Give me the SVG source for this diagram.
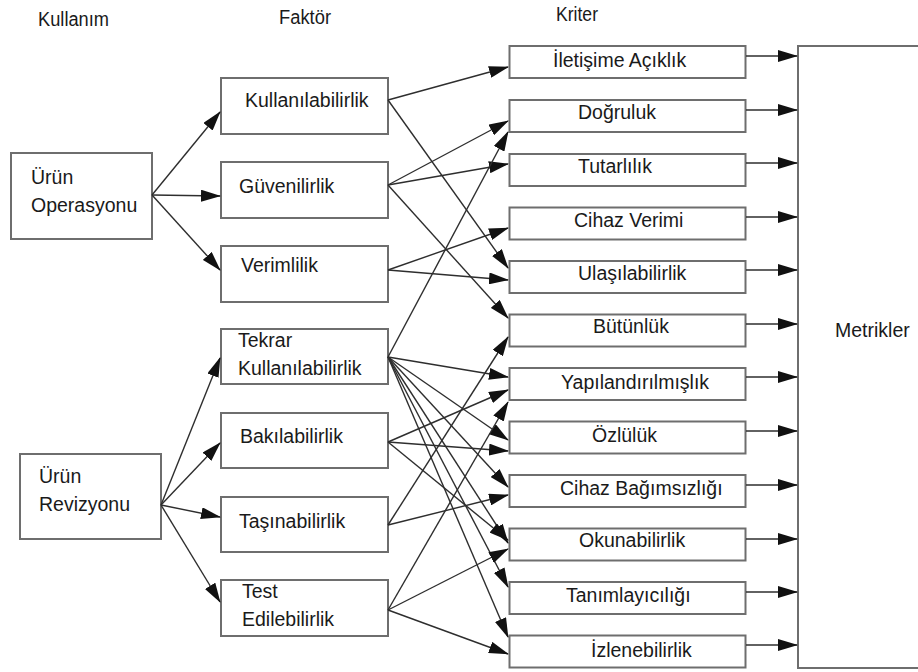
<svg xmlns="http://www.w3.org/2000/svg" width="918" height="672" viewBox="0 0 918 672">
  <style>
    .box { fill: #ffffff; stroke: #6e6e6e; stroke-width: 2; }
    .lbl { font-family: "Liberation Sans", Arial, sans-serif; font-size: 19.5px; fill: #1a1a1a; }
    .hdr { font-family: "Liberation Sans", Arial, sans-serif; font-size: 20px; fill: #1a1a1a; }
    .edge { stroke: #2e2e2e; stroke-width: 1.4; fill: none; marker-end: url(#arrow); }
  </style>
  <defs>
    <marker id="arrow" markerUnits="userSpaceOnUse" markerWidth="20" markerHeight="12" refX="19" refY="6" orient="auto">
      <path d="M0,0 L20,6 L0,12 Z" fill="#111111"/>
    </marker>
  </defs>
  <rect width="918" height="672" fill="#ffffff"/>

  <!-- column headings -->
  <g id="headings">
    <text class="hdr" x="38" y="26" textLength="71" lengthAdjust="spacingAndGlyphs">Kullanım</text>
    <text class="hdr" x="279" y="24" textLength="52" lengthAdjust="spacingAndGlyphs">Faktör</text>
    <text class="hdr" x="556" y="21" textLength="42" lengthAdjust="spacingAndGlyphs">Kriter</text>
  </g>

  <!-- usage nodes -->
  <g id="urun-operasyonu">
    <rect class="box" x="11" y="153" width="141" height="86"/>
    <text class="lbl" x="31" y="184">Ürün</text>
    <text class="lbl" x="31" y="212">Operasyonu</text>
  </g>
  <g id="urun-revizyonu">
    <rect class="box" x="20" y="454" width="141" height="85"/>
    <text class="lbl" x="39" y="483">Ürün</text>
    <text class="lbl" x="39" y="511">Revizyonu</text>
  </g>

  <!-- factor nodes -->
  <g id="f-kullanilabilirlik">
    <rect class="box" x="221" y="78" width="167" height="56"/>
    <text class="lbl" x="245" y="107">Kullanılabilirlik</text>
  </g>
  <g id="f-guvenilirlik">
    <rect class="box" x="221" y="162" width="167" height="56"/>
    <text class="lbl" x="239" y="193">Güvenilirlik</text>
  </g>
  <g id="f-verimlilik">
    <rect class="box" x="221" y="246" width="167" height="56"/>
    <text class="lbl" x="241" y="272">Verimlilik</text>
  </g>
  <g id="f-tekrar-kullanilabilirlik">
    <rect class="box" x="221" y="329" width="167" height="55"/>
    <text class="lbl" x="238" y="347">Tekrar</text>
    <text class="lbl" x="238" y="375">Kullanılabilirlik</text>
  </g>
  <g id="f-bakilabilirlik">
    <rect class="box" x="221" y="413" width="167" height="55"/>
    <text class="lbl" x="240" y="443">Bakılabilirlik</text>
  </g>
  <g id="f-tasinabilirlik">
    <rect class="box" x="221" y="497" width="167" height="55"/>
    <text class="lbl" x="239" y="528">Taşınabilirlik</text>
  </g>
  <g id="f-test-edilebilirlik">
    <rect class="box" x="221" y="580" width="167" height="56"/>
    <text class="lbl" x="242" y="598">Test</text>
    <text class="lbl" x="242" y="626">Edilebilirlik</text>
  </g>

  <!-- criteria nodes -->
  <g id="k-iletisime-aciklik">
    <rect class="box" x="509.5" y="46" width="236" height="32"/>
    <text class="lbl" x="553" y="67">İletişime Açıklık</text>
  </g>
  <g id="k-dogruluk">
    <rect class="box" x="509.5" y="100" width="236" height="32"/>
    <text class="lbl" x="578" y="119">Doğruluk</text>
  </g>
  <g id="k-tutarlilik">
    <rect class="box" x="509.5" y="154" width="236" height="32"/>
    <text class="lbl" x="578" y="173">Tutarlılık</text>
  </g>
  <g id="k-cihaz-verimi">
    <rect class="box" x="509.5" y="207.5" width="236" height="32"/>
    <text class="lbl" x="574" y="227">Cihaz Verimi</text>
  </g>
  <g id="k-ulasilabilirlik">
    <rect class="box" x="509.5" y="261" width="236" height="32"/>
    <text class="lbl" x="578" y="280">Ulaşılabilirlik</text>
  </g>
  <g id="k-butunluk">
    <rect class="box" x="509.5" y="314.5" width="236" height="32"/>
    <text class="lbl" x="593" y="333">Bütünlük</text>
  </g>
  <g id="k-yapilandirilmislik">
    <rect class="box" x="509.5" y="368" width="236" height="32"/>
    <text class="lbl" x="561" y="389">Yapılandırılmışlık</text>
  </g>
  <g id="k-ozluluk">
    <rect class="box" x="509.5" y="421.5" width="236" height="32"/>
    <text class="lbl" x="592" y="442">Özlülük</text>
  </g>
  <g id="k-cihaz-bagimsizligi">
    <rect class="box" x="509.5" y="475" width="236" height="32"/>
    <text class="lbl" x="560" y="495">Cihaz Bağımsızlığı</text>
  </g>
  <g id="k-okunabilirlik">
    <rect class="box" x="509.5" y="528.5" width="236" height="32"/>
    <text class="lbl" x="579" y="547">Okunabilirlik</text>
  </g>
  <g id="k-tanimlayiciligi">
    <rect class="box" x="509.5" y="582" width="236" height="32"/>
    <text class="lbl" x="566" y="602">Tanımlayıcılığı</text>
  </g>
  <g id="k-izlenebilirlik">
    <rect class="box" x="509.5" y="635.5" width="236" height="32"/>
    <text class="lbl" x="591" y="657">İzlenebilirlik</text>
  </g>

  <!-- metrics node, running past the right edge -->
  <g id="metrikler">
    <rect class="box" x="798" y="46" width="140" height="622"/>
    <text class="lbl" x="835" y="337">Metrikler</text>
  </g>

  <!-- connectors -->
  <g id="connectors">
    <!-- usage to factor -->
    <line class="edge" x1="152" y1="195" x2="220" y2="112"/>
    <line class="edge" x1="152" y1="195" x2="220" y2="196"/>
    <line class="edge" x1="152" y1="195" x2="220" y2="270"/>
    <line class="edge" x1="161" y1="505" x2="220" y2="358"/>
    <line class="edge" x1="161" y1="505" x2="220" y2="443"/>
    <line class="edge" x1="161" y1="505" x2="220" y2="517"/>
    <line class="edge" x1="161" y1="505" x2="220" y2="602"/>

    <!-- factor to criteria -->
    <line class="edge" x1="388" y1="100" x2="508" y2="67"/>
    <line class="edge" x1="388" y1="100" x2="508" y2="268"/>

    <line class="edge" x1="388" y1="185" x2="508" y2="121"/>
    <line class="edge" x1="388" y1="185" x2="508" y2="164"/>
    <line class="edge" x1="388" y1="185" x2="508" y2="318"/>

    <line class="edge" x1="388" y1="270" x2="508" y2="228"/>
    <line class="edge" x1="388" y1="270" x2="508" y2="280"/>

    <line class="edge" x1="388" y1="357" x2="508" y2="132"/>
    <line class="edge" x1="388" y1="357" x2="508" y2="377"/>
    <line class="edge" x1="388" y1="357" x2="508" y2="440"/>
    <line class="edge" x1="388" y1="357" x2="508" y2="487"/>
    <line class="edge" x1="388" y1="357" x2="508" y2="543"/>
    <line class="edge" x1="388" y1="357" x2="508" y2="587"/>
    <line class="edge" x1="388" y1="357" x2="508" y2="637"/>

    <line class="edge" x1="388" y1="442" x2="508" y2="390"/>
    <line class="edge" x1="388" y1="442" x2="508" y2="451"/>
    <line class="edge" x1="388" y1="442" x2="508" y2="540"/>

    <line class="edge" x1="388" y1="525" x2="508" y2="337"/>
    <line class="edge" x1="388" y1="525" x2="508" y2="495"/>

    <line class="edge" x1="388" y1="610" x2="508" y2="402"/>
    <line class="edge" x1="388" y1="610" x2="508" y2="549"/>
    <line class="edge" x1="388" y1="610" x2="508" y2="654"/>

    <!-- criteria to metrics -->
    <line class="edge" x1="746" y1="56" x2="797" y2="56"/>
    <line class="edge" x1="746" y1="110" x2="797" y2="110"/>
    <line class="edge" x1="746" y1="163" x2="797" y2="163"/>
    <line class="edge" x1="746" y1="217" x2="797" y2="217"/>
    <line class="edge" x1="746" y1="270" x2="797" y2="270"/>
    <line class="edge" x1="746" y1="324" x2="797" y2="324"/>
    <line class="edge" x1="746" y1="377" x2="797" y2="377"/>
    <line class="edge" x1="746" y1="431" x2="797" y2="431"/>
    <line class="edge" x1="746" y1="485" x2="797" y2="485"/>
    <line class="edge" x1="746" y1="539" x2="797" y2="539"/>
    <line class="edge" x1="746" y1="592" x2="797" y2="592"/>
    <line class="edge" x1="746" y1="645" x2="797" y2="645"/>
  </g>
</svg>
